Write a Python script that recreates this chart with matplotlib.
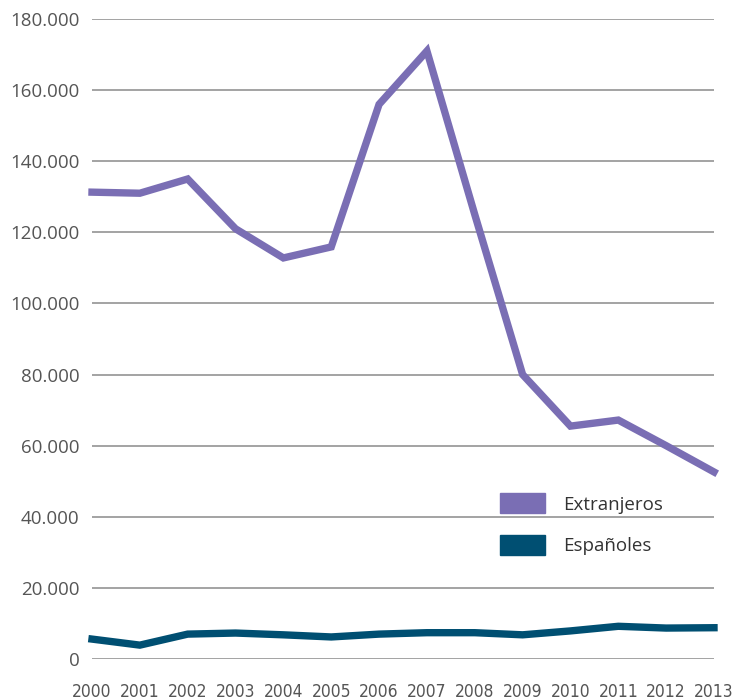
import matplotlib
matplotlib.use('Agg')
from matplotlib import pyplot as plt
from matplotlib.patches import Patch
from matplotlib.ticker import FuncFormatter

# Datos
anios = list(range(2000, 2014))
extranjeros = [131300, 131000, 135000, 121000, 112800, 115900, 156000,
               171000, 125000, 80000, 65500, 67200, 60000, 52600]
espanoles = [5600, 3900, 7000, 7300, 6800, 6200, 7000,
             7400, 7400, 6800, 7900, 9200, 8700, 8800]

color_ext = '#7A6EB4'
color_esp = '#004F72'

fig = plt.figure(figsize=(7.36, 7.0), dpi=100)
ax = fig.add_axes([92/736, 1 - 659/700, (714 - 92)/736, (659 - 19)/700])

ax.plot(anios, extranjeros, color=color_ext, lw=5.3, clip_on=False,
        solid_joinstyle='miter', zorder=3)
ax.plot(anios, espanoles, color=color_esp, lw=5.3, clip_on=False,
        solid_joinstyle='miter', zorder=3)

ax.set_xlim(2000, 2013)
ax.set_ylim(0, 180000)
ax.set_yticks(range(0, 180001, 20000))
ax.set_xticks(anios)
ax.yaxis.set_major_formatter(FuncFormatter(lambda v, p: f'{int(v):,}'.replace(',', '.')))

ax.grid(axis='y', color='#8a8a8a', lw=1.1)
ax.set_axisbelow(True)
for s in ax.spines.values():
    s.set_visible(False)
ax.tick_params(axis='y', length=0, pad=9, labelsize=13.5, labelcolor='#555555')
ax.tick_params(axis='x', length=0, pad=17, labelsize=12.5, labelcolor='#555555')
for lbl in ax.get_xticklabels():
    lbl.set_family(['DejaVu Sans'])
    lbl.set_stretch('condensed')
for lbl in ax.get_yticklabels():
    lbl.set_family(['Open Sans', 'DejaVu Sans'])

handles = [Patch(color=color_ext, label='Extranjeros'),
           Patch(color=color_esp, label='Españoles')]
leg = ax.legend(handles=handles, loc='upper left', bbox_to_anchor=(0.629, 0.285),
                frameon=False, prop={'family': ['Open Sans', 'DejaVu Sans'], 'size': 13.5},
                handlelength=2.4, handleheight=1.23,
                labelspacing=1.15, handletextpad=0.95)
for t in leg.get_texts():
    t.set_color('#333333')

fig.savefig('out.png', dpi=100)
